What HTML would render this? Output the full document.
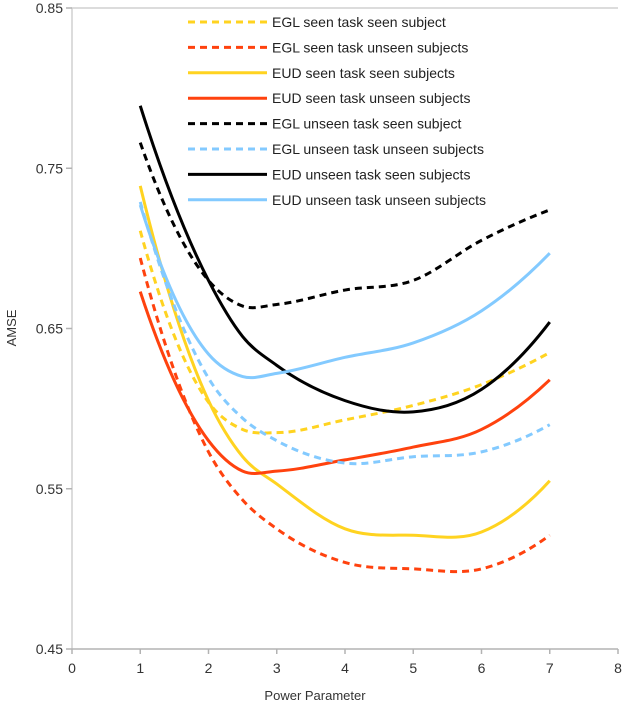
<!DOCTYPE html>
<html><head><meta charset="utf-8"><style>
body{margin:0;background:#fff;}
svg{display:block;font-family:"Liberation Sans",sans-serif;}
</style></head><body>
<svg id="chart" width="622" height="706" viewBox="0 0 622 706"></svg>
<script>
const xValues=[1,2,2.5,3,4,5,6,7];
const xTicks=[0,1,2,3,4,5,6,7,8];
const yTicks=[0.45,0.55,0.65,0.75,0.85];
const seriesNames=["EGL seen task seen subject","EGL seen task unseen subjects","EUD seen task seen subjects","EUD seen task unseen subjects","EGL unseen task seen subject","EGL unseen task unseen subjects","EUD unseen task seen subjects","EUD unseen task unseen subjects"];
const eglSeenSeen=[0.711,0.604,0.587,0.585,0.593,0.602,0.615,0.635];
const eglSeenUnseen=[0.694,0.573,0.543,0.525,0.504,0.500,0.500,0.521];
const eudSeenSeen=[0.739,0.605,0.570,0.553,0.525,0.521,0.523,0.555];
const eudSeenUnseen=[0.673,0.580,0.561,0.561,0.568,0.576,0.587,0.618];
const eglUnseenSeen=[0.766,0.680,0.664,0.665,0.674,0.680,0.705,0.724];
const eglUnseenUnseen=[0.729,0.619,0.594,0.580,0.566,0.570,0.573,0.590];
const eudUnseenSeen=[0.789,0.680,0.645,0.627,0.605,0.598,0.612,0.654];
const eudUnseenUnseen=[0.727,0.634,0.620,0.622,0.632,0.641,0.661,0.697];
const seriesValues=[eglSeenSeen,eglSeenUnseen,eudSeenSeen,eudSeenUnseen,eglUnseenSeen,eglUnseenUnseen,eudUnseenSeen,eudUnseenUnseen];
const colors=["#ffd320","#ff420e","#ffd320","#ff420e","#000000","#83caff","#000000","#83caff"];
const dashed=[true,true,false,false,true,true,false,false];

const svg=document.getElementById('chart');
const NS="http://www.w3.org/2000/svg";
const X0=72,X1=618,Y0=649,Y1=8;
const xs=v=>X0+(v-0)/(8-0)*(X1-X0);
const ys=v=>Y0-(v-0.45)/(0.85-0.45)*(Y0-Y1);
function mk(t,a,p){const e=document.createElementNS(NS,t);for(const k in a)e.setAttribute(k,a[k]);(p||svg).appendChild(e);return e;}

const frame=mk('path',{d:`M${X0} ${Y0}V${Y1}H${X1}`,fill:'none',stroke:'#d0d0d0','stroke-width':1.5});


const xAxis=mk('line',{x1:X0,y1:Y0,x2:X1,y2:Y0,stroke:'#b3b3b3','stroke-width':1.5});


xTicks.forEach(t=>{
  const tk=mk('line',{x1:xs(t),y1:Y0,x2:xs(t),y2:Y0+5,stroke:'#b3b3b3','stroke-width':1.5});
  
  
  const tx=mk('text',{x:xs(t),y:Y0+24,'text-anchor':'middle','font-size':14,fill:'#333'});
  tx.textContent=t;
  
  
});
yTicks.forEach(t=>{
  const tk=mk('line',{x1:X0-6,y1:ys(t),x2:X0,y2:ys(t),stroke:'#b3b3b3','stroke-width':1.5});
  
  
  const tx=mk('text',{x:X0-9,y:ys(t)+5,'text-anchor':'end','font-size':14,fill:'#333'});
  tx.textContent=t.toFixed(2);
  
  
});
const xt=mk('text',{x:315,y:700,'text-anchor':'middle','font-size':13,fill:'#333'});
xt.textContent='Power Parameter';


const yt=mk('text',{x:16,y:328,'text-anchor':'middle','font-size':13,fill:'#333',transform:'rotate(-90 16 328)'});
yt.textContent='AMSE';



function spline(pts){
  const n=pts.length, s=[];
  for(let i=1;i<n-1;i++){
    const h1=pts[i][0]-pts[i-1][0], h2=pts[i+1][0]-pts[i][0];
    const d1=(pts[i][1]-pts[i-1][1])/h1, d2=(pts[i+1][1]-pts[i][1])/h2;
    s[i]=(h2*d1+h1*d2)/(h1+h2);
  }
  s[0]=2*(pts[1][1]-pts[0][1])/(pts[1][0]-pts[0][0])-s[1];
  s[n-1]=2*(pts[n-1][1]-pts[n-2][1])/(pts[n-1][0]-pts[n-2][0])-s[n-2];
  let d=`M${pts[0][0]} ${pts[0][1]}`;
  for(let i=0;i<n-1;i++){
    const p1=pts[i],p2=pts[i+1],h=p2[0]-p1[0];
    d+=`C${p1[0]+h/3} ${p1[1]+s[i]*h/3} ${p2[0]-h/3} ${p2[1]-s[i+1]*h/3} ${p2[0]} ${p2[1]}`;
  }
  return d;
}
seriesValues.forEach((vals,i)=>{
  const pts=vals.map((v,j)=>[xs(xValues[j]),ys(v)]);
  const a={d:spline(pts),fill:'none',stroke:colors[i],'stroke-width':3};
  if(dashed[i])a['stroke-dasharray']='7 5';
  const p=mk('path',a);
  
  
  const ly=22+i*25.4;
  const la={x1:188,y1:ly,x2:267,y2:ly,stroke:colors[i],'stroke-width':3};
  if(dashed[i])la['stroke-dasharray']='7 5';
  const ll=mk('line',la);
  
  
  const lt=mk('text',{x:272,y:ly+5,'font-size':14,fill:'#222'});
  lt.textContent=seriesNames[i];
  
  
});
</script>
</body></html>
